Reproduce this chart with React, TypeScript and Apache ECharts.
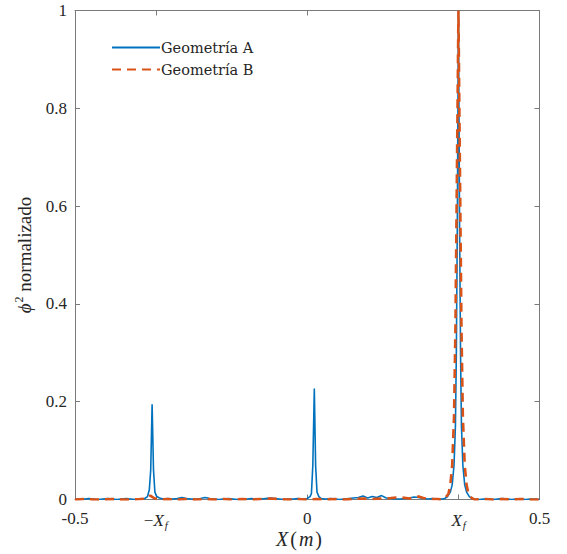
import React, { useEffect, useRef } from "react";
import * as echarts from "echarts";

const XF = 0.326;
const xTickValues = [-0.5, -XF, 0, XF, 0.5];

const blueX = [
  -0.5, -0.49, -0.48, -0.47, -0.46, -0.45, -0.44, -0.43, -0.42, -0.41, -0.4, -0.39, -0.38, -0.37, -0.36, -0.35,
  -0.344, -0.34, -0.337, -0.334, -0.331, -0.328, -0.324, -0.318,
  -0.31, -0.3, -0.29, -0.28, -0.27, -0.26, -0.25, -0.24, -0.23, -0.22, -0.21, -0.2, -0.19, -0.18, -0.17, -0.16,
  -0.15, -0.14, -0.13, -0.12, -0.11, -0.1, -0.09, -0.08, -0.07, -0.06, -0.05, -0.04, -0.03, -0.02, -0.01,
  0.0, 0.006, 0.009, 0.012, 0.0152, 0.018, 0.021, 0.025, 0.03,
  0.04, 0.05, 0.06, 0.07, 0.08, 0.09, 0.1, 0.11, 0.12, 0.13, 0.14, 0.15, 0.16, 0.17, 0.18, 0.19, 0.2,
  0.21, 0.22, 0.23, 0.24, 0.25, 0.26, 0.27, 0.28, 0.29,
  0.296, 0.302, 0.308, 0.312, 0.316, 0.319, 0.321, 0.323, 0.3255, 0.328, 0.33, 0.332, 0.335, 0.339, 0.343, 0.349, 0.355,
  0.36, 0.37, 0.38, 0.39, 0.4, 0.41, 0.42, 0.43, 0.44, 0.45, 0.46, 0.47, 0.48, 0.49, 0.5,
];
const blueY = [
  0.001, 0.0, 0.001, 0.002, 0.001, 0.0, 0.001, 0.002, 0.001, 0.0, 0.001, 0.002, 0.001, 0.0, 0.001, 0.002,
  0.006, 0.02, 0.06, 0.195, 0.06, 0.015, 0.006, 0.003,
  0.001, 0.002, 0.001, 0.002, 0.004, 0.002, 0.001, 0.001, 0.002, 0.004, 0.002, 0.001, 0.0, 0.001, 0.002, 0.001,
  0.0, 0.001, 0.001, 0.002, 0.001, 0.001, 0.002, 0.003, 0.002, 0.001, 0.0, 0.001, 0.001, 0.002, 0.001,
  0.002, 0.006, 0.012, 0.07, 0.227, 0.07, 0.015, 0.006, 0.002,
  0.001, 0.002, 0.001, 0.0, 0.001, 0.002, 0.003, 0.004, 0.007, 0.003, 0.006, 0.004, 0.008, 0.003, 0.002, 0.001, 0.001,
  0.002, 0.003, 0.005, 0.004, 0.002, 0.001, 0.002, 0.001, 0.001,
  0.002, 0.006, 0.015, 0.03, 0.07, 0.15, 0.3, 0.55, 1.0, 0.55, 0.3, 0.15, 0.07, 0.03, 0.015, 0.006, 0.002,
  0.001, 0.0, 0.001, 0.001, 0.0, 0.001, 0.002, 0.001, 0.0, 0.001, 0.001, 0.0, 0.001, 0.001, 0.0,
];

const orangeX = [
  -0.5, -0.48, -0.46, -0.44, -0.42, -0.4, -0.38, -0.36, -0.345, -0.338, -0.333, -0.328, -0.32, -0.3, -0.28,
  -0.26, -0.24, -0.22, -0.2, -0.18, -0.16, -0.14, -0.12, -0.1, -0.08, -0.06, -0.04, -0.02, 0.0, 0.02, 0.04,
  0.06, 0.08, 0.1, 0.12, 0.14, 0.16, 0.18, 0.2, 0.22, 0.24, 0.25, 0.26, 0.28, 0.29,
  0.298, 0.304, 0.308, 0.312, 0.316, 0.319, 0.3225, 0.3255, 0.3285, 0.332, 0.335, 0.339, 0.343, 0.347, 0.353,
  0.36, 0.38, 0.4, 0.42, 0.44, 0.46, 0.48, 0.5,
];
const orangeY = [
  0.0, 0.001, 0.0, 0.0, 0.001, 0.0, 0.0, 0.001, 0.002, 0.008, 0.005, 0.002, 0.0, 0.001, 0.0,
  0.001, 0.0, 0.001, 0.0, 0.001, 0.0, 0.001, 0.0, 0.001, 0.002, 0.001, 0.0, 0.001, 0.0, 0.001, 0.0,
  0.001, 0.0, 0.001, 0.002, 0.001, 0.002, 0.003, 0.005, 0.002, 0.006, 0.003, 0.001, 0.001, 0.0,
  0.004, 0.012, 0.03, 0.07, 0.17, 0.35, 0.7, 1.0, 0.7, 0.35, 0.17, 0.07, 0.03, 0.012, 0.004,
  0.0, 0.001, 0.0, 0.001, 0.0, 0.001, 0.0, 0.0,
];

const seriesNames = ["Geometría A", "Geometría B"];

const FONT = "'Liberation Serif', 'DejaVu Serif', serif";
const AXIS_COLOR = "#7a7a7a";
const TEXT_COLOR = "#262626";

function xLabel(v: number): string {
  if (Math.abs(v - XF) < 1e-6) return "{i|X}{s|f}";
  if (Math.abs(v + XF) < 1e-6) return "{n|−}{i|X}{s|f}";
  if (Math.abs(v) < 1e-9) return "0";
  return String(v);
}

export default function App() {
  const ref = useRef<HTMLDivElement>(null);
  useEffect(() => {
    if (!ref.current) return;
    const chart = echarts.init(ref.current, undefined, { renderer: "svg" });
    const tickCommon = { inside: true, length: 5, lineStyle: { color: AXIS_COLOR, width: 1 } };
    const lineCommon = { show: true, onZero: false, lineStyle: { color: AXIS_COLOR, width: 1 } };
    chart.setOption({
      animation: false,
      backgroundColor: "#ffffff",
      grid: { left: 75, right: 27.5, top: 10.5, bottom: 54.5, containLabel: false, outerBoundsMode: "none" },
      legend: {
        orient: "vertical",
        left: 106,
        top: 35,
        itemWidth: 48,
        itemHeight: 14,
        itemGap: 7,
        data: seriesNames,
        itemStyle: { opacity: 0 },
        textStyle: { fontFamily: "'DejaVu Serif', serif", fontSize: 14.5, color: TEXT_COLOR, padding: [0, 0, 0, -4] },
      },
      graphic: [
        {
          type: "text",
          left: 276,
          top: 529,
          silent: true,
          style: {
            text: "{i|X}{n|(}{i|m}{n|)}",
            rich: {
              i: { fontFamily: FONT, fontSize: 20, fontStyle: "italic", fill: TEXT_COLOR, padding: [0, 2, 0, 2] },
              n: { fontFamily: FONT, fontSize: 20, fill: TEXT_COLOR },
            },
          },
        },
      ],
      xAxis: [
        {
          type: "value",
          min: -0.5,
          max: 0.5,
          position: "bottom",
          axisLine: lineCommon,
          axisTick: { ...tickCommon, customValues: xTickValues },
          splitLine: { show: false },
          axisLabel: {
            customValues: xTickValues,
            formatter: (v: number) => xLabel(v),
            margin: 10,
            color: TEXT_COLOR,
            fontFamily: FONT,
            fontSize: 17,
            rich: {
              n: { fontFamily: FONT, fontSize: 17, color: TEXT_COLOR },
              i: { fontFamily: FONT, fontSize: 17, fontStyle: "italic", color: TEXT_COLOR },
              s: { fontFamily: FONT, fontSize: 11, fontStyle: "italic", color: TEXT_COLOR, padding: [10, 0, 0, 1] },
            },
          },
        },
        {
          type: "value",
          min: -0.5,
          max: 0.5,
          position: "top",
          axisLine: lineCommon,
          axisTick: { ...tickCommon, customValues: xTickValues },
          axisLabel: { show: false },
          splitLine: { show: false },
        },
      ],
      yAxis: [
        {
          type: "value",
          min: 0,
          max: 1,
          interval: 0.2,
          position: "left",
          axisLine: lineCommon,
          axisTick: tickCommon,
          splitLine: { show: false },
          axisLabel: {
            formatter: (v: number) => String(+v.toFixed(1)),
            margin: 8,
            color: TEXT_COLOR,
            fontFamily: FONT,
            fontSize: 17,
          },
          name: "{i|ϕ}{sup|2}{n| normalizado}",
          nameLocation: "middle",
          nameGap: 40,
          nameTextStyle: {
            rich: {
              i: { fontFamily: FONT, fontSize: 19, fontStyle: "italic", color: TEXT_COLOR },
              sup: { fontFamily: FONT, fontSize: 12, color: TEXT_COLOR, padding: [0, 0, 10, 1] },
              n: { fontFamily: FONT, fontSize: 19, color: TEXT_COLOR },
            },
          },
        },
        {
          type: "value",
          min: 0,
          max: 1,
          interval: 0.2,
          position: "right",
          axisLine: lineCommon,
          axisTick: tickCommon,
          axisLabel: { show: false },
          splitLine: { show: false },
        },
      ],
      series: [
        {
          name: seriesNames[0],
          type: "line",
          xAxisIndex: 0,
          yAxisIndex: 0,
          data: blueX.map((x, i) => [x, blueY[i]]),
          showSymbol: false,
          symbol: "none",
          lineStyle: { color: "#0072BD", width: 1.6 },
          itemStyle: { color: "#0072BD" },
          z: 2,
        },
        {
          name: seriesNames[1],
          type: "line",
          xAxisIndex: 0,
          yAxisIndex: 0,
          data: orangeX.map((x, i) => [x, orangeY[i]]),
          showSymbol: false,
          symbol: "none",
          lineStyle: { color: "#D95319", width: 2.6, type: [9, 6] },
          itemStyle: { color: "#D95319" },
          z: 3,
        },
      ],
    });
    return () => chart.dispose();
  }, []);
  return (
    <div
      ref={ref}
      style={{ position: "absolute", left: 0, top: 0, width: 567, height: 554, background: "#fff" }}
    />
  );
}
